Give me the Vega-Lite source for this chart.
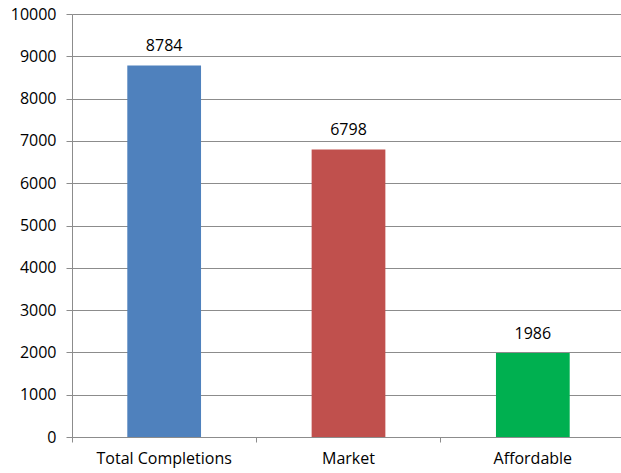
{
  "$schema": "https://vega.github.io/schema/vega-lite/v6.json",
  "autosize": "none",
  "padding": {"left": 72, "top": 14, "right": 0, "bottom": 36},
  "width": 553,
  "height": 423,
  "background": "white",
  "data": {
    "values": [
      {"category": "Total Completions", "units": 8784},
      {"category": "Market", "units": 6798},
      {"category": "Affordable", "units": 1986}
    ]
  },
  "encoding": {
    "x": {
      "field": "category",
      "type": "nominal",
      "sort": null,
      "title": null,
      "scale": {"paddingInner": 0, "paddingOuter": 0},
      "axis": {
        "labelAngle": 0,
        "bandPosition": 0,
        "labelFont": "Open Sans",
        "labelFontSize": 16,
        "labelColor": "#000000",
        "labelPadding": 8,
        "domainColor": "#8c8c8c",
        "tickColor": "#8c8c8c",
        "tickSize": 5,
        "grid": false
      }
    },
    "y": {
      "field": "units",
      "type": "quantitative",
      "title": null,
      "scale": {"domain": [0, 10000], "nice": false},
      "axis": {
        "values": [0, 1000, 2000, 3000, 4000, 5000, 6000, 7000, 8000, 9000, 10000],
        "format": "d",
        "labelFont": "Open Sans",
        "labelFontSize": 16,
        "labelColor": "#000000",
        "labelPadding": 10,
        "domainColor": "#8c8c8c",
        "tickColor": "#8c8c8c",
        "tickSize": 6,
        "gridColor": "#8c8c8c",
        "gridOpacity": 1
      }
    }
  },
  "layer": [
    {
      "mark": {"type": "bar", "width": {"band": 0.4}},
      "encoding": {
        "color": {
          "field": "category",
          "type": "nominal",
          "legend": null,
          "scale": {
            "domain": ["Total Completions", "Market", "Affordable"],
            "range": ["#4f81bd", "#c0504d", "#00b050"]
          }
        }
      }
    },
    {
      "mark": {"type": "text", "baseline": "middle", "dy": -19, "font": "Open Sans", "fontSize": 16, "color": "#000000"},
      "encoding": {"text": {"field": "units", "type": "quantitative", "format": "d"}}
    }
  ]
}
